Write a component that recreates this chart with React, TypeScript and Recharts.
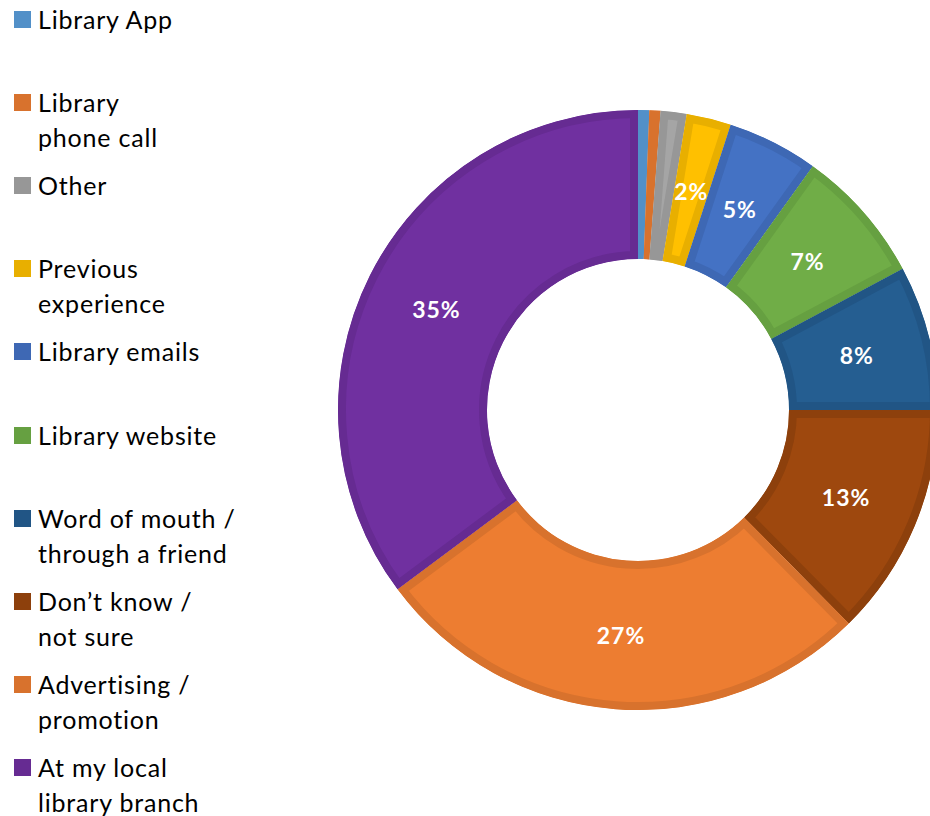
import React from "react";
import { PieChart, Pie, Cell } from "recharts";

const CATEGORIES = [
  "Library App",
  "Library phone call",
  "Other",
  "Previous experience",
  "Library emails",
  "Library website",
  "Word of mouth / through a friend",
  "Don’t know / not sure",
  "Advertising / promotion",
  "At my local library branch",
];

// how the legend breaks each name onto lines
const LEGEND_LINES = [
  ["Library App"],
  ["Library", "phone call"],
  ["Other"],
  ["Previous", "experience"],
  ["Library emails"],
  ["Library website"],
  ["Word of mouth /", "through a friend"],
  ["Don’t know /", "not sure"],
  ["Advertising /", "promotion"],
  ["At my local", "library branch"],
];

const VALUES = [0.6, 0.6, 1.4, 2.4, 4.9, 7.3, 7.8, 12.6, 27.2, 35.2];

const FILLS = [
  "#5B9BD5",
  "#ED7D31",
  "#A5A5A5",
  "#FFC000",
  "#4472C4",
  "#70AD47",
  "#255E91",
  "#9E480E",
  "#ED7D31",
  "#7030A0",
];

const BORDERS = [
  "#5290C8",
  "#D8722D",
  "#979797",
  "#E8AF00",
  "#3E68B4",
  "#66A041",
  "#215585",
  "#8D400C",
  "#D8722D",
  "#662B92",
];

const data = CATEGORIES.map((name, i) => ({ name, value: VALUES[i] }));

const RAD = Math.PI / 180;
const BORDER = 8;

function sectorPath(
  cx: number,
  cy: number,
  ri: number,
  ro: number,
  a0: number,
  a1: number
) {
  const pt = (r: number, a: number) =>
    `${cx + r * Math.cos(a * RAD)},${cy - r * Math.sin(a * RAD)}`;
  const large = Math.abs(a1 - a0) > 180 ? 1 : 0;
  const sweep = a1 < a0 ? 1 : 0;
  return (
    `M${pt(ro, a0)}A${ro},${ro} 0 ${large} ${sweep} ${pt(ro, a1)}` +
    `L${pt(ri, a1)}A${ri},${ri} 0 ${large} ${1 - sweep} ${pt(ri, a0)}Z`
  );
}

// sector with the border drawn inside the slice only
const InsetSector = (props: any) => {
  const { cx, cy, innerRadius, outerRadius, startAngle, endAngle, index } =
    props;
  const d = sectorPath(cx, cy, innerRadius, outerRadius, startAngle, endAngle);
  const id = `slice-clip-${index}`;
  return (
    <g>
      <defs>
        <clipPath id={id}>
          <path d={d} />
        </clipPath>
      </defs>
      <path
        d={d}
        fill={FILLS[index]}
        stroke={BORDERS[index]}
        strokeWidth={BORDER * 2}
        strokeLinejoin="miter"
        clipPath={`url(#${id})`}
      />
    </g>
  );
};

const renderLabel = (props: any) => {
  const { cx, cy, midAngle, innerRadius, outerRadius, percent } = props;
  if (percent < 0.02) return null;
  const r = (innerRadius + outerRadius) / 2;
  const x = cx + r * Math.cos(-midAngle * RAD);
  const y = cy + r * Math.sin(-midAngle * RAD);
  return (
    <text
      x={x}
      y={y}
      fill="#FFFFFF"
      textAnchor="middle"
      dominantBaseline="central"
      fontFamily="Lato, sans-serif"
      fontWeight="bold"
      fontSize={23}
      letterSpacing={1}
    >
      {`${Math.round(percent * 100)}%`}
    </text>
  );
};

const ChartLegend = () => (
  <div style={{ position: "absolute", left: 0, top: 0, width: 260, height: 816 }}>
    {LEGEND_LINES.map((lines, i) => {
      const top = 20 + i * 83.1 - 18;
      return (
        <div
          key={CATEGORIES[i]}
          style={{ position: "absolute", left: 0, top, width: 260 }}
        >
          <div
            style={{
              position: "absolute",
              left: 14,
              top: 9,
              width: 17,
              height: 17,
              background: BORDERS[i],
            }}
          />
          <div
            style={{
              position: "absolute",
              left: 38,
              top: 0,
              fontFamily: "Lato, sans-serif",
              fontSize: 25,
              letterSpacing: 0.8,
              lineHeight: "35px",
              color: "#000000",
              whiteSpace: "nowrap",
            }}
          >
            {lines.map((l) => (
              <div key={l}>{l}</div>
            ))}
          </div>
        </div>
      );
    })}
  </div>
);

export default function App() {
  return (
    <div
      style={{
        position: "fixed",
        left: 0,
        top: 0,
        width: 930,
        height: 816,
        background: "#FFFFFF",
        overflow: "hidden",
      }}
    >
      <PieChart width={930} height={816} margin={{ top: 0, right: 0, bottom: 0, left: 0 }}>
        <Pie
          data={data}
          dataKey="value"
          nameKey="name"
          cx={638}
          cy={410}
          innerRadius={151}
          outerRadius={300}
          startAngle={90}
          endAngle={-270}
          stroke="none"
          label={renderLabel}
          labelLine={false}
          shape={InsetSector}
          isAnimationActive={false}
        >
          {data.map((entry, i) => (
            <Cell key={entry.name} fill={FILLS[i]} />
          ))}
        </Pie>
      </PieChart>
      <ChartLegend />
    </div>
  );
}
